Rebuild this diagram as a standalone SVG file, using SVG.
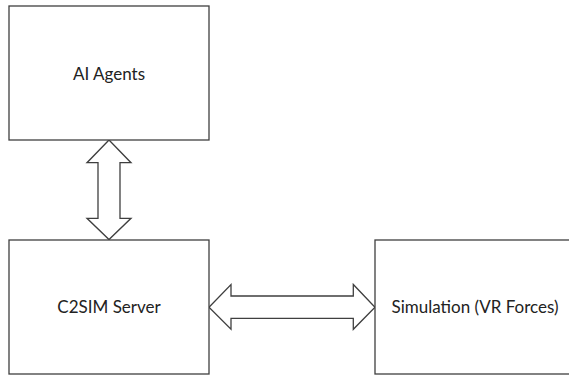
<svg xmlns="http://www.w3.org/2000/svg" width="569" height="376" viewBox="0 0 569 376">
<style>
.box{fill:#fff;stroke:#3f3f3f;stroke-width:1.3}
.arr{fill:#fff;stroke:#3f3f3f;stroke-width:1.3;stroke-linejoin:miter}
.lbl{font-family:Lato,"Open Sans","Liberation Sans",sans-serif;font-size:17px;fill:#222;text-anchor:middle}
</style>
<rect width="569" height="376" fill="#fff"/>
<g id="connectors">
<polygon class="arr" points="109,140 131,162.7 120,162.7 120,218.3 131,218.3 109,239.5 87,218.3 98,218.3 98,162.7 87,162.7"/>
<polygon class="arr" points="209,307.3 231,284.5 231,296 353.3,296 353.3,284.5 375,307.3 353.3,329.3 353.3,318.3 231,318.3 231,329.3"/>
</g>
<g id="ai-agents">
<rect class="box" x="9" y="6" width="200" height="134"/>
<text class="lbl" x="109" y="80">AI Agents</text>
</g>
<g id="c2sim-server">
<rect class="box" x="9" y="240" width="200" height="134"/>
<text class="lbl" x="109" y="313">C2SIM Server</text>
</g>
<g id="simulation">
<rect class="box" x="375" y="240" width="200" height="134"/>
<text class="lbl" x="475" y="313">Simulation (VR Forces)</text>
</g>
</svg>
